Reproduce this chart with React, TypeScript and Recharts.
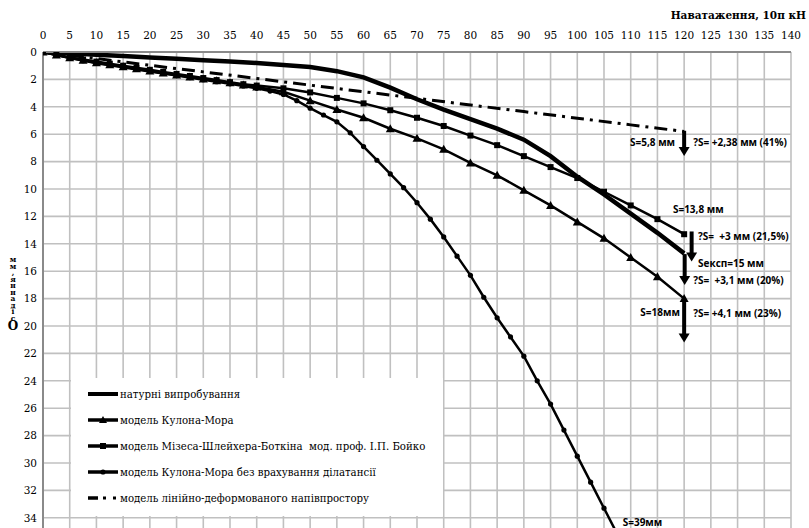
import React from 'react';
import { LineChart, Line, XAxis, YAxis, CartesianGrid, ReferenceLine, ReferenceDot } from 'recharts';

const xTicks = [0, 5, 10, 15, 20, 25, 30, 35, 40, 45, 50, 55, 60, 65, 70, 75, 80, 85, 90, 95, 100, 105, 110, 115, 120, 125, 130, 135, 140];
const yTicks = [0, 2, 4, 6, 8, 10, 12, 14, 16, 18, 20, 22, 24, 26, 28, 30, 32, 34];

const fieldTest = [
  { x: 0, y: 0 }, { x: 5, y: 0.1 }, { x: 10, y: 0.2 }, { x: 15, y: 0.3 }, { x: 20, y: 0.4 },
  { x: 25, y: 0.5 }, { x: 30, y: 0.6 }, { x: 35, y: 0.7 }, { x: 40, y: 0.8 }, { x: 45, y: 0.95 },
  { x: 50, y: 1.1 }, { x: 55, y: 1.4 }, { x: 60, y: 1.85 }, { x: 65, y: 2.6 }, { x: 70, y: 3.45 },
  { x: 75, y: 4.2 }, { x: 80, y: 4.9 }, { x: 85, y: 5.6 }, { x: 90, y: 6.4 }, { x: 95, y: 7.6 },
  { x: 100, y: 9.1 }, { x: 105, y: 10.4 }, { x: 110, y: 11.8 }, { x: 115, y: 13.2 }, { x: 120, y: 14.7 },
];

const coulombMohr = [
  { x: 0, y: 0 }, { x: 2.5, y: 0.22 }, { x: 5, y: 0.42 }, { x: 7.5, y: 0.6 }, { x: 10, y: 0.78 },
  { x: 12.5, y: 0.93 }, { x: 15, y: 1.08 }, { x: 17.5, y: 1.23 }, { x: 20, y: 1.38 }, { x: 22.5, y: 1.53 },
  { x: 25, y: 1.68 }, { x: 27.5, y: 1.83 }, { x: 30, y: 1.97 }, { x: 32.5, y: 2.1 }, { x: 35, y: 2.25 },
  { x: 37.5, y: 2.4 }, { x: 40, y: 2.55 }, { x: 45, y: 2.9 }, { x: 50, y: 3.55 }, { x: 55, y: 4.2 },
  { x: 60, y: 4.8 }, { x: 65, y: 5.6 }, { x: 70, y: 6.3 }, { x: 75, y: 7.1 }, { x: 80, y: 8.1 },
  { x: 85, y: 9.0 }, { x: 90, y: 10.1 }, { x: 95, y: 11.2 }, { x: 100, y: 12.4 }, { x: 105, y: 13.6 },
  { x: 110, y: 15.0 }, { x: 115, y: 16.4 }, { x: 120, y: 18.0 },
];

const misesBoyko = [
  { x: 0, y: 0 }, { x: 2.5, y: 0.2 }, { x: 5, y: 0.4 }, { x: 7.5, y: 0.55 }, { x: 10, y: 0.7 },
  { x: 12.5, y: 0.85 }, { x: 15, y: 1.0 }, { x: 17.5, y: 1.15 }, { x: 20, y: 1.3 }, { x: 22.5, y: 1.45 },
  { x: 25, y: 1.6 }, { x: 27.5, y: 1.75 }, { x: 30, y: 1.9 }, { x: 32.5, y: 2.05 }, { x: 35, y: 2.2 },
  { x: 37.5, y: 2.35 }, { x: 40, y: 2.45 }, { x: 45, y: 2.65 }, { x: 50, y: 2.95 }, { x: 55, y: 3.35 },
  { x: 60, y: 3.75 }, { x: 65, y: 4.25 }, { x: 70, y: 4.8 }, { x: 75, y: 5.4 }, { x: 80, y: 6.1 },
  { x: 85, y: 6.8 }, { x: 90, y: 7.6 }, { x: 95, y: 8.4 }, { x: 100, y: 9.2 }, { x: 105, y: 10.2 },
  { x: 110, y: 11.2 }, { x: 115, y: 12.2 }, { x: 120, y: 13.3 },
];

const coulombNoDilatancy = [
  { x: 0, y: 0 }, { x: 2.5, y: 0.22 }, { x: 5, y: 0.44 }, { x: 7.5, y: 0.63 }, { x: 10, y: 0.82 },
  { x: 12.5, y: 0.97 }, { x: 15, y: 1.12 }, { x: 17.5, y: 1.27 }, { x: 20, y: 1.42 }, { x: 22.5, y: 1.57 },
  { x: 25, y: 1.72 }, { x: 27.5, y: 1.87 }, { x: 30, y: 2.02 }, { x: 32.5, y: 2.17 }, { x: 35, y: 2.32 },
  { x: 37.5, y: 2.48 }, { x: 40, y: 2.65 }, { x: 42.5, y: 2.85 }, { x: 45, y: 3.1 }, { x: 47.5, y: 3.55 },
  { x: 50, y: 4.1 }, { x: 52.5, y: 4.6 }, { x: 55, y: 5.1 }, { x: 57.5, y: 5.9 }, { x: 60, y: 6.9 },
  { x: 62.5, y: 7.9 }, { x: 65, y: 8.9 }, { x: 67.5, y: 9.9 }, { x: 70, y: 11.0 }, { x: 72.5, y: 12.2 },
  { x: 75, y: 13.5 }, { x: 77.5, y: 14.9 }, { x: 80, y: 16.3 }, { x: 82.5, y: 17.9 }, { x: 85, y: 19.4 },
  { x: 87.5, y: 20.8 }, { x: 90, y: 22.2 }, { x: 92.5, y: 24.0 }, { x: 95, y: 25.7 }, { x: 97.5, y: 27.6 },
  { x: 100, y: 29.5 }, { x: 102.5, y: 31.4 }, { x: 105, y: 33.3 }, { x: 107.5, y: 35.2 }, { x: 110, y: 37.1 },
  { x: 112.5, y: 39.0 },
];

const linearHalfSpace = [
  { x: 0, y: 0 }, { x: 10, y: 0.48 }, { x: 20, y: 0.97 }, { x: 30, y: 1.45 }, { x: 40, y: 1.93 },
  { x: 50, y: 2.42 }, { x: 60, y: 2.9 }, { x: 70, y: 3.38 }, { x: 80, y: 3.87 }, { x: 90, y: 4.35 },
  { x: 100, y: 4.83 }, { x: 110, y: 5.32 }, { x: 120, y: 5.8 },
];

const seriesNames = [
  'натурні випробування',
  'модель Кулона-Мора',
  'модель Мізеса-Шлейхера-Боткіна  мод. проф. І.П. Бойко',
  'модель Кулона-Мора без врахування ділатансії',
  'модель лінійно-деформованого напівпростору',
];

const annotations = [
  { x: 118.3, y: 6.86, text: 'S=5,8 мм', anchor: 'end' },
  { x: 121.7, y: 6.86, text: '?S= +2,38 мм (41%)', anchor: 'start' },
  { x: 117.9, y: 11.75, text: 'S=13,8 мм', anchor: 'start' },
  { x: 122.6, y: 13.7, text: '?S=  +3 мм (21,5%)', anchor: 'start' },
  { x: 122.6, y: 15.7, text: 'Sексп=15 мм', anchor: 'start' },
  { x: 121.7, y: 16.9, text: '?S=  +3,1 мм (20%)', anchor: 'start' },
  { x: 119.2, y: 19.3, text: 'S=18мм', anchor: 'end' },
  { x: 121.7, y: 19.35, text: '?S= +4,1 мм (23%)', anchor: 'start' },
  { x: 108.5, y: 34.6, text: 'S=39мм', anchor: 'start' },
];

const arrows = [
  { x: 120, y1: 5.75, y2: 7.6 },
  { x: 121.4, y1: 13.1, y2: 15.3 },
  { x: 120.1, y1: 14.75, y2: 17.0 },
  { x: 120, y1: 18.1, y2: 21.2 },
];

const xTitle = 'Наватаження, 10п кН';
const yTitleLetters = ['м', 'м', ',', 'я', 'н', 'н', 'а', 'д', 'і', 'с'];

const SERIF = "'DejaVu Serif', 'Liberation Serif', 'Times New Roman', serif";
const SANS = "'Open Sans', 'Noto Sans', sans-serif";

const triDot = (p: any) => (
  <polygon
    key={`t${p.index}`}
    points={`${p.cx},${p.cy - 4.5} ${p.cx + 4.5},${p.cy + 3.5} ${p.cx - 4.5},${p.cy + 3.5}`}
    fill="#000"
  />
);
const sqDot = (p: any) => (
  <rect key={`s${p.index}`} x={p.cx - 3} y={p.cy - 3} width={6} height={6} fill="#000" />
);
const circDot = (p: any) => <circle key={`c${p.index}`} cx={p.cx} cy={p.cy} r={2.6} fill="#000" />;

const ArrowShape = (p: any) => {
  const { x1, y1, x2, y2 } = p;
  const x = (x1 + x2) / 2;
  return (
    <g>
      <line x1={x} y1={y1} x2={x} y2={y2 - 8} stroke="#000" strokeWidth={4} />
      <polygon points={`${x - 5.5},${y2 - 9} ${x + 5.5},${y2 - 9} ${x},${y2}`} fill="#000" />
    </g>
  );
};

const Legend = () => {
  const rows = [0, 1, 2, 3, 4];
  return (
    <svg width={372} height={138} style={{ display: 'block' }}>
      {rows.map((i) => {
        const cy = 16 + i * 26;
        return (
          <g key={i}>
            {i === 4 ? (
              <g>
                <line x1={17} y1={cy} x2={27} y2={cy} stroke="#000" strokeWidth={3.5} />
                <rect x={32} y={cy - 1.5} width={3} height={3} fill="#000" />
                <rect x={42} y={cy - 1.5} width={3} height={3} fill="#000" />
              </g>
            ) : (
              <line x1={17} y1={cy} x2={47} y2={cy} stroke="#000" strokeWidth={i === 0 ? 4 : 3.5} />
            )}
            {i === 1 && (
              <polygon points={`${32},${cy - 4} ${36},${cy + 3} ${28},${cy + 3}`} fill="#000" />
            )}
            {i === 2 && <rect x={29} y={cy - 3} width={6} height={6} fill="#000" />}
            {i === 3 && <circle cx={32} cy={cy} r={2.6} fill="#000" />}
            <text
              x={49}
              y={cy + 4}
              fontFamily={SERIF}
              fontSize={10.2}
              fill="#000"
              style={{ whiteSpace: 'pre', fontFamily: SERIF }}
            >
              {seriesNames[i]}
            </text>
          </g>
        );
      })}
    </svg>
  );
};

export default function App() {
  return (
    <div
      style={{
        position: 'fixed',
        left: 0,
        top: 0,
        width: 809,
        height: 528,
        overflow: 'hidden',
        background: '#fff',
        fontFamily: SERIF,
      }}
    >
      <div style={{ position: 'absolute', left: 0, top: 0 }}>
        <LineChart width={809} height={620} margin={{ top: 22, right: 18, bottom: 20, left: 0 }} style={{ fontFamily: SERIF }}>
          <CartesianGrid stroke="#c0c0c0" strokeWidth={1.6} />
          <XAxis
            type="number"
            dataKey="x"
            orientation="top"
            domain={[0, 140]}
            ticks={xTicks}
            interval={0}
            height={30}
            allowDataOverflow
            axisLine={{ stroke: '#8a8a8a', strokeWidth: 2 }}
            tickLine={false}
            tickSize={0}
            tickMargin={13}
            tick={{ fontFamily: SERIF, fontSize: 10.5, fill: '#000', style: { fontFamily: SERIF } }}
          />
          <YAxis
            type="number"
            dataKey="y"
            reversed
            domain={[0, 40]}
            ticks={yTicks}
            interval={0}
            width={43}
            allowDataOverflow
            axisLine={{ stroke: '#8a8a8a', strokeWidth: 2 }}
            tickLine={false}
            tickSize={0}
            tickMargin={6}
            tick={{ fontFamily: SERIF, fontSize: 10.5, fill: '#000', style: { fontFamily: SERIF } }}
          />
          <Line
            data={linearHalfSpace}
            dataKey="y"
            name={seriesNames[4]}
            stroke="#000"
            strokeWidth={3}
            strokeDasharray="13 6 3 6"
            dot={false}
            isAnimationActive={false}
          />
          <Line
            data={coulombNoDilatancy}
            dataKey="y"
            name={seriesNames[3]}
            stroke="#000"
            strokeWidth={2.5}
            dot={circDot}
            isAnimationActive={false}
          />
          <Line
            data={coulombMohr}
            dataKey="y"
            name={seriesNames[1]}
            stroke="#000"
            strokeWidth={2.5}
            dot={triDot}
            isAnimationActive={false}
          />
          <Line
            data={misesBoyko}
            dataKey="y"
            name={seriesNames[2]}
            stroke="#000"
            strokeWidth={2.5}
            dot={sqDot}
            isAnimationActive={false}
          />
          <Line
            data={fieldTest}
            dataKey="y"
            name={seriesNames[0]}
            stroke="#000"
            strokeWidth={4.5}
            dot={false}
            isAnimationActive={false}
          />
          {arrows.map((a, i) => (
            <ReferenceLine
              key={`a${i}`}
              segment={[
                { x: a.x, y: a.y1 },
                { x: a.x, y: a.y2 },
              ]}
              ifOverflow="visible"
              shape={ArrowShape}
            />
          ))}
          {annotations.map((a, i) => (
            <ReferenceDot
              key={`n${i}`}
              x={a.x}
              y={a.y}
              ifOverflow="visible"
              shape={(p: any) => (
                <text
                  x={p.cx}
                  y={p.cy}
                  textAnchor={a.anchor as any}
                  fontFamily={SANS}
                  fontWeight="bold"
                  fontSize={10}
                  fill="#000"
                  style={{ whiteSpace: 'pre', fontFamily: SANS }}
                >
                  {a.text}
                </text>
              )}
            />
          ))}
        </LineChart>
      </div>
      <div style={{ position: 'absolute', left: 71, top: 378, width: 372, height: 138, background: '#fff' }}>
        <Legend />
      </div>
      <svg style={{ position: 'absolute', left: 0, top: 0 }} width={809} height={528} pointerEvents="none">
        <text
          x={806}
          y={19}
          textAnchor="end"
          fontWeight="bold"
          fontSize={10.5}
          fill="#000"
          style={{ fontFamily: SERIF }}
        >
          {xTitle}
        </text>
        {yTitleLetters.map((ch, i) => (
          <text
            key={i}
            x={13}
            y={262 + i * 6.55}
            textAnchor="middle"
            fontWeight="bold"
            fontSize={7.5}
            fill="#000"
            style={{ fontFamily: SERIF }}
          >
            {ch}
          </text>
        ))}
        <text x={13} y={330} textAnchor="middle" fontWeight="bold" fontSize={12} fill="#000" style={{ fontFamily: SERIF }}>
          О
        </text>
      </svg>
    </div>
  );
}
